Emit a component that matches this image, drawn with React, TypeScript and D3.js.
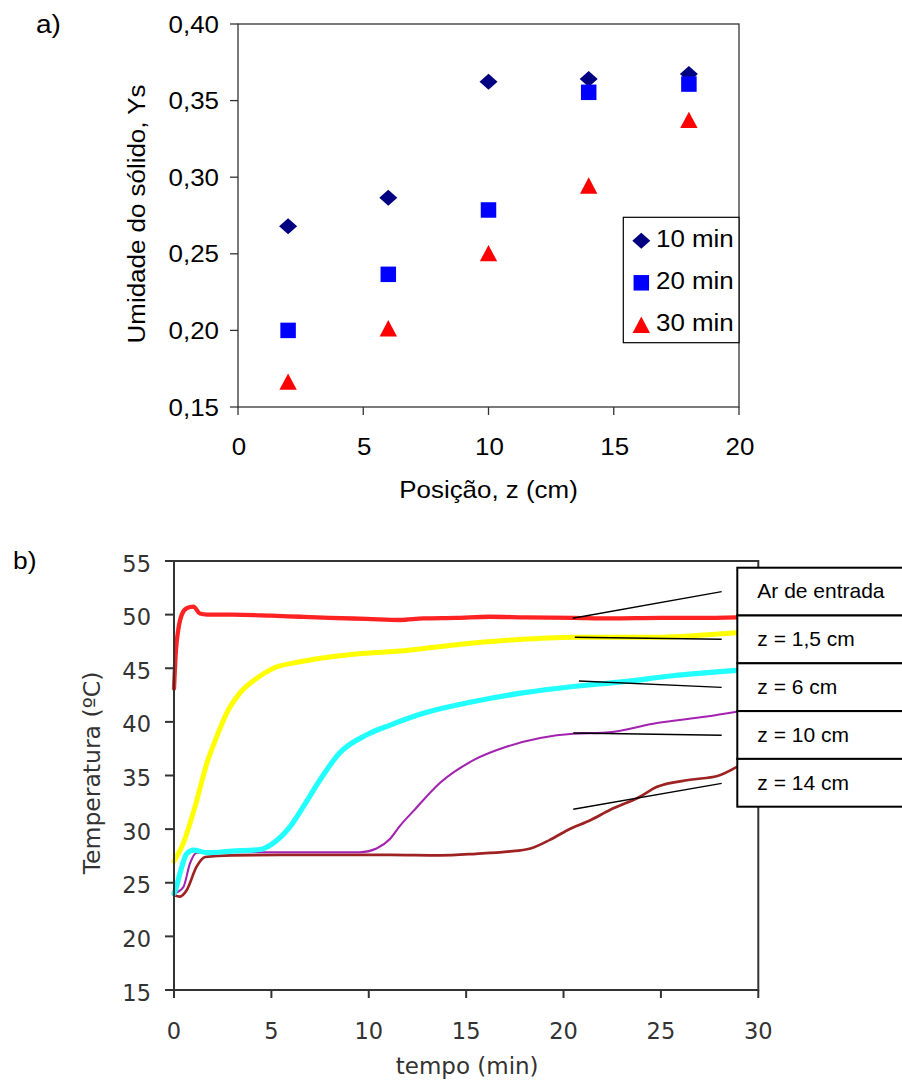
import React from 'react';
import * as d3 from 'd3';

// ---------- Chart a) data ----------
const posZ = [2, 6, 10, 14, 18];
const ys10min = [0.268, 0.2866, 0.3623, 0.3641, 0.3674];
const ys20min = [0.2, 0.2366, 0.2786, 0.3554, 0.3608];
const ys30min = [0.1665, 0.2013, 0.2503, 0.2945, 0.3373];
const seriesNamesA = ['10 min', '20 min', '30 min'];
const xTicksA = [0, 5, 10, 15, 20];
const yTicksA = [0.15, 0.2, 0.25, 0.3, 0.35, 0.4];

// ---------- Chart b) data ----------
const tAr = [0, 0.1, 0.22, 0.4, 0.65, 1.0, 1.33, 1.7, 3, 5, 6.5, 8, 9.9, 11.6, 12.8, 14.5, 16.2, 18, 20.5, 22.4, 25, 27, 28.9];
const TAr = [43.1, 46.7, 48.6, 50.0, 50.6, 50.75, 50.1, 50.0, 50.0, 49.9, 49.8, 49.7, 49.6, 49.5, 49.65, 49.7, 49.8, 49.75, 49.7, 49.65, 49.7, 49.7, 49.75];

const tZ15 = [0, 0.48, 1.08, 1.68, 2.19, 2.7, 3.39, 4.25, 5.1, 6.47, 8.18, 9.9, 11.6, 14.5, 17.9, 20.6, 24.8, 27.2, 28.9];
const TZ15 = [27.0, 28.7, 32.1, 36.1, 38.6, 40.8, 42.7, 44.06, 45.0, 45.6, 46.1, 46.4, 46.6, 47.2, 47.7, 47.9, 47.9, 48.1, 48.3];

const tZ6 = [0, 0.05, 0.31, 0.65, 1.0, 1.7, 3.0, 4.4, 5.1, 5.95, 6.64, 7.5, 8.5, 9.9, 11.1, 12.8, 15.4, 17.9, 20.5, 23.1, 25.6, 28.9];
const TZ6 = [24.0, 24.2, 25.9, 27.7, 28.05, 27.8, 27.95, 28.1, 28.7, 30.2, 32.1, 34.6, 37.1, 38.8, 39.7, 40.8, 41.9, 42.7, 43.3, 43.75, 44.3, 44.8];

const tZ10 = [0, 0.48, 0.82, 1.16, 3, 6, 9.55, 10.4, 11.1, 11.6, 12.3, 13.65, 15.4, 17.1, 18.8, 20.5, 22.2, 24.8, 27.35, 28.9];
const TZ10 = [24.0, 24.6, 26.8, 27.8, 27.85, 27.85, 27.85, 28.2, 29.1, 30.3, 31.7, 34.3, 36.45, 37.7, 38.5, 38.9, 39.0, 39.9, 40.5, 40.95];

const tZ14 = [0, 0.3, 0.65, 1.16, 1.6, 3, 6, 9, 11.1, 13.65, 15.5, 17.1, 18.3, 19.3, 20.2, 21.4, 22.4, 23.9, 24.8, 26.5, 27.9, 28.9];
const TZ14 = [23.85, 23.7, 24.3, 26.5, 27.4, 27.55, 27.6, 27.6, 27.6, 27.55, 27.7, 27.9, 28.2, 29.0, 29.9, 30.85, 31.8, 33.0, 33.95, 34.6, 34.95, 35.8];

const legendLabelsB = ['Ar de entrada', 'z = 1,5 cm', 'z = 6 cm', 'z = 10 cm', 'z = 14 cm'];
const leaderStartT = [20.47, 20.58, 20.79, 20.5, 20.5];
const leaderStartTemp = [49.66, 47.89, 43.81, 38.96, 31.85];
const leaderEndT = [28.12, 28.12, 28.12, 28.12, 28.12];
const leaderEndTemp = [52.14, 47.7, 43.22, 38.75, 34.27];
const xTicksB = [0, 5, 10, 15, 20, 25, 30];
const yTicksB = [15, 20, 25, 30, 35, 40, 45, 50, 55];

// ---------- layout ----------
const W = 902;
const H = 1081;
const ARIAL = '"Liberation Sans", Arial, sans-serif';
const DEJAVU = '"DejaVu Sans", sans-serif';
const SX = 1.08;

const xA = d3.scaleLinear().domain([0, 20]).range([238, 739]);
const yA = d3.scaleLinear().domain([0.15, 0.4]).range([407, 24]);
const xB = d3.scaleLinear().domain([0, 30]).range([174, 758.3]);
const yB = d3.scaleLinear().domain([15, 55]).range([990, 561]);

const fmtComma = (v: number) => d3.format('.2f')(v).replace('.', ',');

const diamondPath = 'M0,-8L9,0L0,8L-9,0Z';
const squarePath = 'M-7.75,-7.75H7.75V7.75H-7.75Z';
const trianglePath = 'M0,-8.3L8.7,8L-8.7,8Z';

const seriesA = [
  { name: seriesNamesA[0], ys: ys10min, path: diamondPath, color: '#000080' },
  { name: seriesNamesA[1], ys: ys20min, path: squarePath, color: '#0000ff' },
  { name: seriesNamesA[2], ys: ys30min, path: trianglePath, color: '#ff0000' },
];

const seriesB = [
  { t: tZ14, T: TZ14, color: '#9e2222', w: 2.7 },
  { t: tZ10, T: TZ10, color: '#a323b0', w: 2.1 },
  { t: tZ6, T: TZ6, color: '#22ffff', w: 5.2 },
  { t: tZ15, T: TZ15, color: '#ffff00', w: 5 },
  { t: tAr, T: TAr, color: '#ff2222', w: 4.3 },
];

const lineB = d3
  .line<[number, number]>()
  .x((d) => xB(d[0]))
  .y((d) => yB(d[1]))
  .curve(d3.curveMonotoneX);

function SText(props: {
  x: number;
  y: number;
  sx?: number;
  rotate?: number;
  anchor?: string;
  size: number;
  family: string;
  fill?: string;
  children: React.ReactNode;
}) {
  const { x, y, sx = 1, rotate = 0, anchor = 'start', size, family, fill = '#000', children } = props;
  return (
    <text
      transform={`translate(${x},${y}) rotate(${rotate}) scale(${sx},1)`}
      textAnchor={anchor}
      fontSize={size}
      fontFamily={family}
      fill={fill}
    >
      {children}
    </text>
  );
}

export default function App() {
  const legRowH = 47.8;
  const legTop = 567.7;
  const legLeft = 737.3;
  return (
    <svg
      width={W}
      height={H}
      viewBox={`0 0 ${W} ${H}`}
      style={{ position: 'absolute', left: 0, top: 0, background: '#fff' }}
    >
      <rect x={0} y={0} width={W} height={H} fill="#fff" />

      {/* ---------------- Chart a ---------------- */}
      <SText x={36} y={33} size={26} family={ARIAL} sx={SX}>a)</SText>

      {/* frame */}
      <rect
        x={xA(0)}
        y={yA(0.4)}
        width={xA(20) - xA(0)}
        height={yA(0.15) - yA(0.4)}
        fill="none"
        stroke="#333"
        strokeWidth={1.3}
      />
      {yTicksA.map((v) => (
        <g key={'ya' + v}>
          <line x1={xA(0) - 8} x2={xA(0)} y1={yA(v)} y2={yA(v)} stroke="#333" strokeWidth={1.3} />
          <SText x={219} y={yA(v) + 8.5} anchor="end" size={24} family={ARIAL} sx={SX}>
            {fmtComma(v)}
          </SText>
        </g>
      ))}
      {xTicksA.map((v) => (
        <g key={'xa' + v}>
          <line x1={xA(v)} x2={xA(v)} y1={yA(0.15)} y2={yA(0.15) + 8} stroke="#333" strokeWidth={1.3} />
          <SText x={xA(v) + 1} y={455} anchor="middle" size={24} family={ARIAL} sx={SX}>
            {String(v)}
          </SText>
        </g>
      ))}
      <SText x={(xA(0) + xA(20)) / 2} y={497.5} anchor="middle" size={24} family={ARIAL} sx={SX}>
        Posição, z (cm)
      </SText>
      <SText x={145} y={214} rotate={-90} anchor="middle" size={24} family={ARIAL} sx={SX}>
        Umidade do sólido, Ys
      </SText>

      {seriesA.map((s) => (
        <g key={s.name}>
          {posZ.map((z, i) => (
            <path key={i} d={s.path} transform={`translate(${xA(z)},${yA(s.ys[i])})`} fill={s.color} />
          ))}
        </g>
      ))}

      {/* legend a */}
      <rect x={623.3} y={217.3} width={xA(20) - 623.3} height={125.4} fill="#fff" stroke="#000" strokeWidth={1.2} />
      {seriesA.map((s, i) => (
        <g key={'leg' + s.name}>
          <path d={s.path} transform={`translate(641.3,${240.7 + i * 42.1})`} fill={s.color} />
          <SText x={656} y={247.3 + i * 41.7} size={24} family={ARIAL} sx={SX}>
            {s.name}
          </SText>
        </g>
      ))}

      {/* ---------------- Chart b ---------------- */}
      <SText x={13} y={569} size={24} family={ARIAL} sx={1.1}>b)</SText>

      {seriesB.map((s, i) => (
        <path
          key={'sb' + i}
          d={lineB(s.t.map((t, j) => [t, s.T[j]] as [number, number])) || ''}
          fill="none"
          stroke={s.color}
          strokeWidth={s.w}
          strokeLinejoin="round"
          strokeLinecap="round"
        />
      ))}

      {/* frame b */}
      <rect
        x={xB(0)}
        y={yB(55)}
        width={xB(30) - xB(0)}
        height={yB(15) - yB(55)}
        fill="none"
        stroke="#333"
        strokeWidth={2}
      />
      {yTicksB.map((v) => (
        <g key={'yb' + v}>
          <line x1={xB(0) - 9} x2={xB(0)} y1={yB(v)} y2={yB(v)} stroke="#333" strokeWidth={2} />
          <SText x={151} y={yB(v) + 10.5} anchor="end" size={22.5} family={DEJAVU} fill="#333">
            {String(v)}
          </SText>
        </g>
      ))}
      {xTicksB.map((v) => (
        <g key={'xb' + v}>
          <line x1={xB(v)} x2={xB(v)} y1={yB(15)} y2={yB(15) + 8} stroke="#333" strokeWidth={2} />
          <SText x={xB(v)} y={1039.3} anchor="middle" size={22.5} family={DEJAVU} fill="#333">
            {String(v)}
          </SText>
        </g>
      ))}
      <SText x={(xB(0) + xB(30)) / 2 + 1} y={1074} anchor="middle" size={23} family={DEJAVU} fill="#333">
        tempo (min)
      </SText>
      <SText x={100} y={773} rotate={-90} anchor="middle" size={23.5} family={DEJAVU} fill="#333">
        Temperatura (ºC)
      </SText>

      {/* leader lines */}
      {leaderStartT.map((t0, i) => (
        <line
          key={'ld' + i}
          x1={xB(t0)}
          y1={yB(leaderStartTemp[i])}
          x2={xB(leaderEndT[i])}
          y2={yB(leaderEndTemp[i])}
          stroke="#000"
          strokeWidth={1.4}
        />
      ))}

      {/* legend b */}
      {legendLabelsB.map((lab, i) => (
        <g key={'lb' + i}>
          <rect
            x={legLeft}
            y={legTop + i * legRowH}
            width={W + 20 - legLeft}
            height={legRowH}
            fill="#fff"
            stroke="#000"
            strokeWidth={2}
          />
          <SText x={757.3} y={legTop + i * legRowH + 30.6} size={21} family={ARIAL}>
            {lab}
          </SText>
        </g>
      ))}
    </svg>
  );
}
